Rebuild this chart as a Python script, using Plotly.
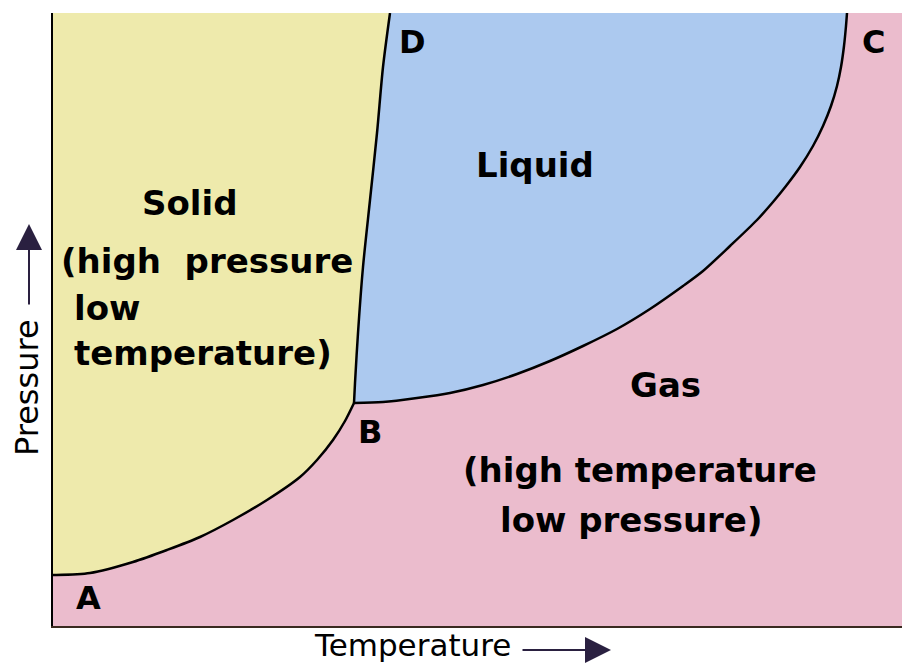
import plotly.graph_objects as go

# Boundary curves (Temperature, Pressure in arbitrary units)
# Sublimation curve A -> B
sub_T = [0, 2, 37, 80, 114, 147, 180, 214, 247, 264, 280, 292, 301]
sub_P = [51, 51, 53, 64, 76, 89, 106, 126, 149, 166, 186, 205, 223]
# Fusion curve B -> D
fus_T = [301, 302, 305, 310, 317, 324, 330, 337]
fus_P = [223, 243, 293, 359, 426, 493, 559, 613]
# Vaporisation curve B -> C
vap_T = [301, 330, 364, 397, 430, 464, 497, 530, 564, 597, 630, 650, 677, 704, 720, 733, 747, 760, 770, 778, 784, 788, 791, 793, 794]
vap_P = [223, 224, 228, 233, 241, 252, 265, 280, 297, 317, 340, 355, 380, 406, 424, 440, 459, 480, 500, 520, 540, 559, 580, 600, 613]

T_MAX = 857
P_MAX = 613

# Region labels: (text, T, P, anchor)
region_labels = [
    ("Solid", 137, 423, "center"),
    ("(high  pressure", 6, 365, "left"),
    ("low", 19, 318, "left"),
    ("temperature)", 19, 273, "left"),
    ("Liquid", 482, 461, "center"),
    ("Gas", 612, 241, "center"),
    ("(high temperature", 587, 156, "center"),
    ("low pressure)", 578, 106, "center"),
]
point_labels = [("D", 359, 584), ("C", 820, 584), ("B", 317, 194), ("A", 35, 28)]

SOLID = "#eeeaac"
LIQUID = "#acc9ef"
GAS = "#ebbccd"

fig = go.Figure()

# Solid region
solid_T = sub_T + fus_T[1:] + [0, 0]
solid_P = sub_P + fus_P[1:] + [P_MAX, sub_P[0]]
fig.add_trace(go.Scatter(x=solid_T, y=solid_P, mode="lines", fill="toself",
                         fillcolor=SOLID, line=dict(width=0), hoverinfo="skip"))

# Liquid region
liq_T = fus_T + vap_T[::-1]
liq_P = fus_P + vap_P[::-1]
fig.add_trace(go.Scatter(x=liq_T, y=liq_P, mode="lines", fill="toself",
                         fillcolor=LIQUID, line=dict(width=0), hoverinfo="skip"))

# Boundary lines
for xs, ys in [(sub_T, sub_P), (fus_T, fus_P), (vap_T, vap_P)]:
    fig.add_trace(go.Scatter(x=xs, y=ys, mode="lines",
                             line=dict(color="black", width=2.5, shape="spline", smoothing=0.8),
                             hoverinfo="skip"))

for text, t, p, anchor in region_labels:
    fig.add_annotation(x=t, y=p, text=text, showarrow=False, xanchor=anchor, yanchor="middle",
                       font=dict(family="DejaVu Sans", size=34, color="black", weight="bold"))
for text, t, p in point_labels:
    fig.add_annotation(x=t, y=p, text=text, showarrow=False, yanchor="middle",
                       font=dict(family="DejaVu Sans", size=32, color="black", weight="bold"))

OFF = 8  # page offset of the figure (body margin)
L, R, T, B = 45, 0, 5, 39
W, H = 902, 657
pw, ph = W - L - R, H - T - B

def px(xp):
    return (xp - OFF - L) / pw

def py(yp):
    return (T + ph - (yp - OFF)) / ph

# Axis titles with arrows
fig.add_annotation(xref="paper", yref="paper", x=px(412), y=py(664), text="Temperature",
                   showarrow=False, xanchor="center", yanchor="bottom", borderpad=0,
                   font=dict(family="DejaVu Sans", size=31, color="black"))
fig.add_annotation(xref="paper", yref="paper", x=px(611), y=py(650), text="",
                   showarrow=True, ax=-90, ay=0, arrowhead=2, arrowsize=2.6,
                   arrowwidth=2, arrowcolor="#2a2040")
fig.add_annotation(xref="paper", yref="paper", x=px(27), y=py(388), text="Pressure",
                   textangle=-90, showarrow=False, xanchor="center", yanchor="middle",
                   font=dict(family="DejaVu Sans", size=32, color="black"))
fig.add_annotation(xref="paper", yref="paper", x=px(29), y=py(224), text="",
                   showarrow=True, ax=0, ay=82, arrowhead=2, arrowsize=2.6,
                   arrowwidth=2, arrowcolor="#2a2040")

fig.update_layout(
    width=W, height=H,
    margin=dict(l=L, r=R, t=T, b=B),
    paper_bgcolor="white",
    plot_bgcolor=GAS,
    showlegend=False,
    xaxis=dict(range=[0, T_MAX], showgrid=False, zeroline=False, showticklabels=False,
               ticks="", showline=True, linecolor="#3a2a20", linewidth=2, fixedrange=True),
    yaxis=dict(range=[0, P_MAX], showgrid=False, zeroline=False, showticklabels=False,
               ticks="", showline=True, linecolor="black", linewidth=2, fixedrange=True),
)

fig.write_html("out.html")
